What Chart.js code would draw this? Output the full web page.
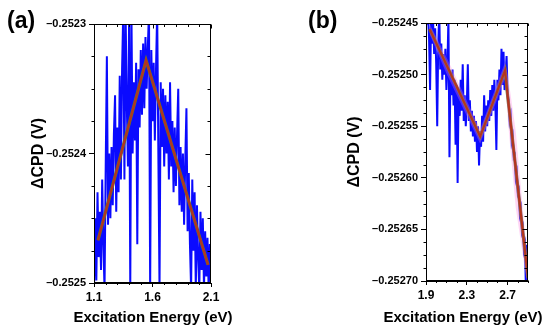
<!DOCTYPE html>
<html lang="en">
<head>
<meta charset="UTF-8" />
<title>Delta CPD vs excitation energy</title>
<script src="https://cdn.jsdelivr.net/npm/chart.js"></script>
<style>
    body { margin: 0; background: #fff; font-family: "Liberation Sans", Arial, sans-serif; }
    .wrap { position: relative; width: 550px; height: 331px; overflow: hidden; }
    #chartA { position: absolute; left: 0; top: 0; }
    #chartB { position: absolute; left: 270px; top: 0; }
    .tag { position: absolute; font-weight: bold; font-size: 23px; line-height: 1; color: #000; }
</style>
</head>
<body>
<div class="wrap">
    <canvas id="chartA" width="255" height="331"></canvas>
    <canvas id="chartB" width="280" height="331"></canvas>
    <div class="tag" style="left:7px; top:9px">(a)</div>
    <div class="tag" style="left:308px; top:9px">(b)</div>
</div>
<script>
// panel (a): measured signal
const energyA = [1.10, 1.11, 1.12, 1.13, 1.14, 1.15, 1.16, 1.17, 1.18, 1.19,
    1.20, 1.21, 1.22, 1.23, 1.24, 1.25, 1.26, 1.27, 1.28, 1.29,
    1.30, 1.31, 1.32, 1.33, 1.34, 1.35, 1.36, 1.37, 1.38, 1.39,
    1.40, 1.41, 1.42, 1.43, 1.44, 1.45, 1.46, 1.47, 1.48, 1.49,
    1.50, 1.51, 1.52, 1.53, 1.54, 1.55, 1.56, 1.57, 1.58, 1.59,
    1.60, 1.61, 1.62, 1.63, 1.64, 1.65, 1.66, 1.67, 1.68, 1.69,
    1.70, 1.71, 1.72, 1.73, 1.74, 1.75, 1.76, 1.77, 1.78, 1.79,
    1.80, 1.81, 1.82, 1.83, 1.84, 1.85, 1.86, 1.87, 1.88, 1.89,
    1.90, 1.91, 1.92, 1.93, 1.94, 1.95, 1.96, 1.97, 1.98, 1.99,
    2.00, 2.01, 2.02, 2.03, 2.04, 2.05, 2.06, 2.07, 2.08, 2.09, 2.10];
const cpdA = [-0.252505, -0.252450, -0.252498, -0.252430, -0.252480, -0.252445, -0.252490, -0.252420, -0.252470, -0.252505,
    -0.252410, -0.252325, -0.252455, -0.252400, -0.252450, -0.252395, -0.252440, -0.252385, -0.252355, -0.252445,
    -0.252380, -0.252430, -0.252340, -0.252420, -0.252335, -0.252290, -0.252420, -0.252290, -0.252360, -0.252410,
    -0.252295, -0.252505, -0.252290, -0.252400, -0.252345, -0.252390, -0.252330, -0.252470, -0.252335, -0.252380,
    -0.252320, -0.252370, -0.252315, -0.252365, -0.252310, -0.252350, -0.252318, -0.252290, -0.252505, -0.252320,
    -0.252375, -0.252330, -0.252390, -0.252335, -0.252290, -0.252400, -0.252505, -0.252345, -0.252395, -0.252350,
    -0.252410, -0.252355, -0.252400, -0.252360, -0.252420, -0.252345, -0.252410, -0.252375, -0.252430, -0.252380,
    -0.252425, -0.252385, -0.252350, -0.252440, -0.252395, -0.252445, -0.252400, -0.252455, -0.252405, -0.252365,
    -0.252460, -0.252415, -0.252470, -0.252505, -0.252420, -0.252475, -0.252430, -0.252505, -0.252440, -0.252480,
    -0.252505, -0.252445, -0.252490, -0.252450, -0.252505, -0.252460, -0.252495, -0.252465, -0.252505, -0.252470, -0.252500];
// panel (a): piecewise linear fit
const fitAx = [1.134, 1.545, 2.075];
const fitAy = [-0.252467, -0.252328, -0.252486];

// panel (b): measured signal
const energyB = [1.90, 1.91, 1.92, 1.93, 1.94, 1.95, 1.96, 1.97, 1.98, 1.99,
    2.00, 2.01, 2.02, 2.03, 2.04, 2.05, 2.06, 2.07, 2.08, 2.09,
    2.10, 2.11, 2.12, 2.13, 2.14, 2.15, 2.16, 2.17, 2.18, 2.19,
    2.20, 2.21, 2.22, 2.23, 2.24, 2.25, 2.26, 2.27, 2.28, 2.29,
    2.30, 2.31, 2.32, 2.33, 2.34, 2.35, 2.36, 2.37, 2.38, 2.39,
    2.40, 2.41, 2.42, 2.43, 2.44, 2.45, 2.46, 2.47, 2.48, 2.49,
    2.50, 2.51, 2.52, 2.53, 2.54, 2.55, 2.56, 2.57, 2.58, 2.59,
    2.60, 2.61, 2.62, 2.63, 2.64, 2.65, 2.66, 2.67, 2.68, 2.69,
    2.70, 2.71, 2.72, 2.73, 2.74, 2.75, 2.76, 2.77, 2.78, 2.79,
    2.80, 2.81, 2.82, 2.83, 2.84, 2.85, 2.86, 2.87, 2.88, 2.89, 2.90];
const cpdB = [-0.252445, -0.252448, -0.252440, -0.252465, -0.252515, -0.252445, -0.252470, -0.252450, -0.252480, -0.252455,
    -0.252490, -0.252550, -0.252470, -0.252440, -0.252495, -0.252470, -0.252505, -0.252480, -0.252500, -0.252475,
    -0.252515, -0.252490, -0.252445, -0.252580, -0.252500, -0.252520, -0.252495, -0.252530, -0.252505, -0.252568,
    -0.252510, -0.252605, -0.252515, -0.252540, -0.252505, -0.252535, -0.252490, -0.252545, -0.252520, -0.252550,
    -0.252530, -0.252490, -0.252545, -0.252525, -0.252555, -0.252535, -0.252560, -0.252540, -0.252565, -0.252545,
    -0.252575, -0.252550, -0.252588, -0.252555, -0.252570, -0.252540, -0.252565, -0.252520, -0.252555, -0.252530,
    -0.252550, -0.252525, -0.252545, -0.252515, -0.252540, -0.252510, -0.252535, -0.252505, -0.252528, -0.252573,
    -0.252505, -0.252525, -0.252495, -0.252520, -0.252475, -0.252510, -0.252478, -0.252515, -0.252500, -0.252482,
    -0.252518, -0.252525, -0.252545, -0.252540, -0.252565, -0.252560, -0.252580, -0.252578, -0.252600, -0.252595,
    -0.252615, -0.252612, -0.252635, -0.252630, -0.252652, -0.252648, -0.252670, -0.252665, -0.252710, -0.252665, -0.252705];
// panel (b): fit and its pink band
const fitBx = [1.936, 2.431, 2.675, 2.702, 2.900];
const fitBy = [-0.252456, -0.252560, -0.252496, -0.252522, -0.252697];
const bandBx = [1.936, 2.100, 2.431, 2.675, 2.702, 2.780, 2.900];
const bandBHi = [-0.252451, -0.252483, -0.252553, -0.252488, -0.252500, -0.252555, -0.252685];
const bandBLo = [-0.252461, -0.252499, -0.252567, -0.252504, -0.252544, -0.252629, -0.252709];

// axes
const xTicksA = [1.1, 1.6, 2.1];
const xLabelsA = ['1.1', '1.6', '2.1'];
const yTicksA = [-0.2525, -0.2524, -0.2523];
const yLabelsA = ['\u20130.2525', '\u20130.2524', '\u20130.2523'];
const xTicksB = [1.9, 2.3, 2.7];
const xLabelsB = ['1.9', '2.3', '2.7'];
const yTicksB = [-0.25270, -0.25265, -0.25260, -0.25255, -0.25250, -0.25245];
const yLabelsB = ['\u20130.25270', '\u20130.25265', '\u20130.25260', '\u20130.25255', '\u20130.25250', '\u20130.25245'];
const xTitle = 'Excitation Energy (eV)';
const yTitle = '\u0394CPD (V)';

const FONT = '"Liberation Sans", Arial, sans-serif';
const pts = (xs, ys) => xs.map((x, i) => ({ x: x, y: ys[i] }));

function onTick(scale, v) {
    const tol = (scale.max - scale.min) * 1e-4;
    return scale.ticks.some(t => Math.abs(t.value - v) < tol);
}

// closes the box, adds minor / mirrored ticks and the x title
// (the axis title gets squeezed to the plot width, the original one is wider)
const frameTicks = {
    id: 'frameTicks',
    afterDraw(chart, args, opts) {
        const { ctx, chartArea: a, scales: { x, y } } = chart;
        const L = Math.round(a.left) + 0.5, R = Math.round(a.right) - 0.5;
        const T = Math.round(a.top) + 0.5, B = Math.round(a.bottom) - 0.5;
        ctx.save();
        ctx.strokeStyle = '#000';
        ctx.lineWidth = 1;
        ctx.strokeRect(L, T, R - L, B - T);
        ctx.beginPath();
        for (let v = x.min; v <= x.max + 1e-9; v += opts.xMinor) {
            const px = Math.round(x.getPixelForValue(v)) + 0.5;
            const major = onTick(x, v);
            const len = major ? 4 : 2.5;
            ctx.moveTo(px, T); ctx.lineTo(px, T + len);
            if (!major) { ctx.moveTo(px, B); ctx.lineTo(px, B + len); }
        }
        for (let v = y.min; v <= y.max + 1e-12; v += opts.yMinor) {
            const py = Math.round(y.getPixelForValue(v)) + 0.5;
            const major = onTick(y, v);
            const len = major ? 5 : 3;
            ctx.moveTo(R, py); ctx.lineTo(R - len, py);
            if (!major) { ctx.moveTo(L, py); ctx.lineTo(L - len, py); }
        }
        ctx.stroke();
        ctx.fillStyle = '#000';
        ctx.font = 'bold 15px ' + FONT;
        ctx.textAlign = 'center';
        ctx.textBaseline = 'middle';
        ctx.fillText(xTitle, opts.titleX, 318);
        ctx.restore();
    }
};

function panel(id, p) {
    return new Chart(document.getElementById(id), {
        type: 'line',
        data: { datasets: p.datasets },
        options: {
            responsive: false,
            animation: false,
            layout: { padding: p.padding },
            elements: { point: { radius: 0 }, line: { tension: 0 } },
            plugins: { legend: { display: false }, tooltip: { enabled: false }, frameTicks: p.frame },
            scales: {
                x: {
                    type: 'linear', min: p.xMin, max: p.xMax,
                    afterBuildTicks: s => { s.ticks = p.xTicks.map(v => ({ value: v })); },
                    afterFit: s => { s.height = p.xHeight; },
                    ticks: { callback: (v, i) => p.xLabels[i], color: '#000', padding: 3, maxRotation: 0, autoSkip: false,
                        font: { family: FONT, size: 12, weight: 'bold' } },
                    grid: { drawOnChartArea: false, tickLength: 4, color: '#000' },
                    border: { color: '#000', width: 1 }
                },
                y: {
                    type: 'linear', min: p.yMin, max: p.yMax,
                    afterBuildTicks: s => { s.ticks = p.yTicks.map(v => ({ value: v })); },
                    afterFit: s => { s.width = p.yWidth; },
                    ticks: { callback: (v, i) => p.yLabels[i], color: '#000', padding: 3, autoSkip: false,
                        font: { family: FONT, size: 11, weight: 'bold' } },
                    grid: { drawOnChartArea: false, tickLength: 5, color: '#000' },
                    border: { color: '#000', width: 1 },
                    title: { display: true, text: yTitle, color: '#000', padding: 0,
                        font: { family: FONT, size: 16, weight: 'bold' } }
                }
            }
        },
        plugins: [frameTicks]
    });
}

const blue = (d) => ({ data: d, borderColor: '#0a0aff', borderWidth: 2, clip: 0, order: 3 });
const fitUnder = (d) => ({ data: d, borderColor: '#5a7a30', borderWidth: 3.2, clip: 0, order: 2 });
const fitOver = (d) => ({ data: d, borderColor: '#b5341f', borderWidth: 2.2, clip: 0, order: 1 });

panel('chartA', {
    padding: { left: 29, right: 44, top: 24, bottom: 0 },
    yWidth: 65, xHeight: 48,
    xMin: 1.1, xMax: 2.1, yMin: -0.2525, yMax: -0.2523,
    xTicks: xTicksA, xLabels: xLabelsA, yTicks: yTicksA, yLabels: yLabelsA,
    frame: { xMinor: 0.1, yMinor: 0.000025, titleX: 153 },
    datasets: [blue(pts(energyA, cpdA)), fitUnder(pts(fitAx, fitAy)), fitOver(pts(fitAx, fitAy))]
});

panel('chartB', {
    padding: { left: 75, right: 22, top: 23, bottom: 0 },
    yWidth: 81, xHeight: 50,
    xMin: 1.9, xMax: 2.9, yMin: -0.25270, yMax: -0.25245,
    xTicks: xTicksB, xLabels: xLabelsB, yTicks: yTicksB, yLabels: yLabelsB,
    frame: { xMinor: 0.1, yMinor: 0.0000125, titleX: 193 },
    datasets: [
        blue(pts(energyB, cpdB)),
        { data: pts(bandBx, bandBHi), borderWidth: 0, fill: false, clip: 0, order: 2 },
        { data: pts(bandBx, bandBLo), borderWidth: 0, backgroundColor: 'rgba(255,120,220,0.3)', fill: '-1', clip: 0, order: 2 },
        fitUnder(pts(fitBx, fitBy)), fitOver(pts(fitBx, fitBy))
    ]
});
</script>
</body>
</html>
